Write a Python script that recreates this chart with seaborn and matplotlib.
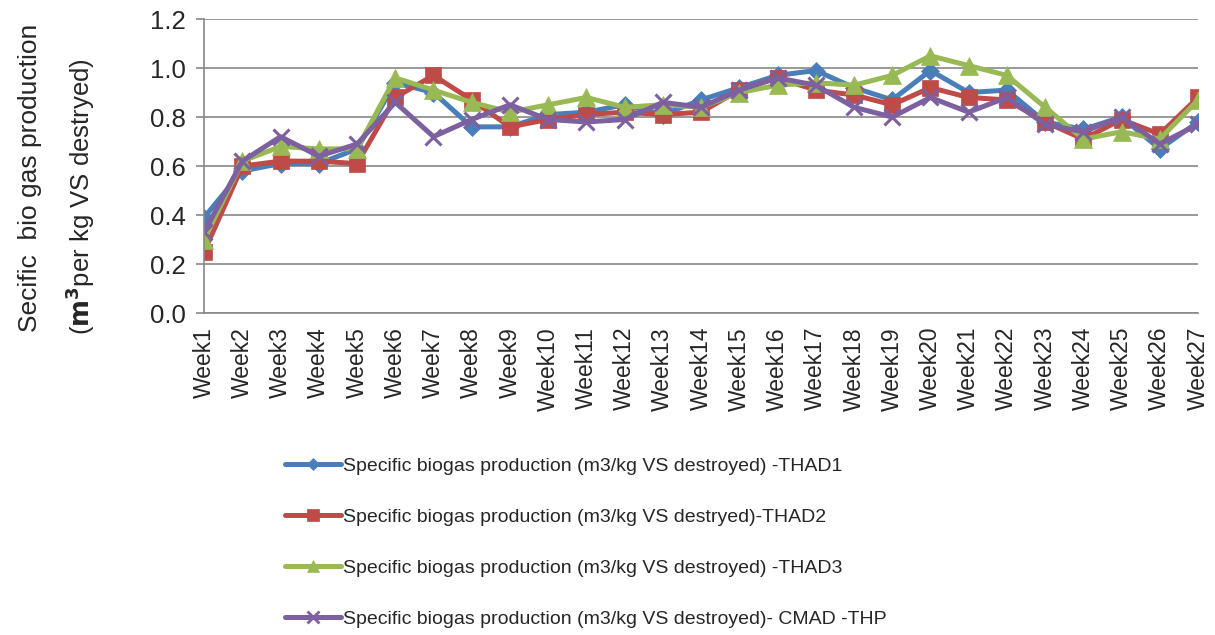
import seaborn as sns
import matplotlib.pyplot as plt
import pandas as pd
from matplotlib.lines import Line2D

# weeks on the x axis
weeks = ["Week%d" % i for i in range(1, 28)]

# specific biogas production (m3/kg VS destroyed)
thad1 = [0.39, 0.58, 0.61, 0.61, 0.67, 0.94, 0.90, 0.76, 0.76, 0.81, 0.82, 0.85, 0.81, 0.87,
         0.92, 0.97, 0.99, 0.92, 0.87, 0.99, 0.90, 0.91, 0.78, 0.75, 0.80, 0.67, 0.78]
thad2 = [0.25, 0.60, 0.62, 0.62, 0.61, 0.88, 0.97, 0.87, 0.76, 0.79, 0.81, 0.82, 0.81, 0.82,
         0.91, 0.96, 0.91, 0.89, 0.85, 0.92, 0.88, 0.87, 0.78, 0.71, 0.79, 0.73, 0.88]
thad3 = [0.30, 0.62, 0.68, 0.67, 0.67, 0.96, 0.91, 0.86, 0.82, 0.85, 0.88, 0.84, 0.85, 0.84,
         0.90, 0.93, 0.94, 0.93, 0.97, 1.05, 1.01, 0.97, 0.84, 0.71, 0.74, 0.71, 0.87]
cmad = [0.33, 0.62, 0.72, 0.64, 0.69, 0.86, 0.72, 0.79, 0.85, 0.79, 0.78, 0.79, 0.86, 0.84,
        0.91, 0.96, 0.93, 0.84, 0.80, 0.88, 0.82, 0.88, 0.77, 0.74, 0.80, 0.69, 0.77]

labels = ["Specific biogas production (m3/kg VS destroyed) -THAD1",
          "Specific biogas production (m3/kg VS destryed)-THAD2",
          "Specific biogas production (m3/kg VS destroyed) -THAD3",
          "Specific biogas production (m3/kg VS destroyed)- CMAD -THP"]
colors = ["#4A7EBB", "#BE4B48", "#98B954", "#7D60A0"]
markers = ["D", "s", "^", "x"]
msizes = [9, 12, 13, 12]

frames = []
for lab, vals in zip(labels, [thad1, thad2, thad3, cmad]):
    frames.append(pd.DataFrame({"week": weeks, "value": vals, "series": lab}))
df = pd.concat(frames, ignore_index=True)
df["pos"] = df["week"].map({w: i for i, w in enumerate(weeks)})

sns.set_style("white")
plt.rcParams['font.family'] = ['Liberation Sans', 'DejaVu Sans']

fig = plt.figure(figsize=(12.15, 6.35), dpi=100)
ax = fig.add_axes([0.168, 0.507, 0.818, 0.463])

ax.yaxis.grid(True, color="#888888", linewidth=1.2)
ax.set_axisbelow(True)

for lab, c, m, ms in zip(labels, colors, markers, msizes):
    sub = df[df["series"] == lab]
    sns.lineplot(data=sub, x="pos", y="value", color=c, linewidth=3.6, marker=m,
                 markersize=ms, markeredgecolor=c, markeredgewidth=2.2 if m == "x" else 0.5,
                 ax=ax, legend=False, sort=False)

ax.set_xlim(0, 26)
ax.set_ylim(0, 1.2)
ax.set_yticks([0.0, 0.2, 0.4, 0.6, 0.8, 1.0, 1.2])
ax.set_yticklabels(["%.1f" % v for v in [0.0, 0.2, 0.4, 0.6, 0.8, 1.0, 1.2]], fontsize=18.5)
ax.set_xticks(range(len(weeks)))
ax.set_xticklabels(weeks, rotation=90, fontsize=16.5)
ax.tick_params(axis="y", length=6, color="#888888", width=1.2, pad=7, direction="out", left=True)
ax.tick_params(axis="x", length=0, pad=10)
ax.set_xlabel("")
ax.set_ylabel("")

for s in ["top", "right"]:
    ax.spines[s].set_visible(False)
for s in ["left", "bottom"]:
    ax.spines[s].set_color("#888888")
    ax.spines[s].set_linewidth(1.2)

fig.text(0.025, 0.72, "Secific  bio gas production", rotation=90, fontsize=19,
         ha="center", va="center")
fig.text(0.066, 0.69, r"($\mathbf{m^3}$per kg VS destryed)", rotation=90, fontsize=18.5,
         ha="center", va="center")

handles = [Line2D([0], [0], color=c, linewidth=3.6, marker=m, markersize=ms * 0.7,
                  markeredgecolor=c, markeredgewidth=2 if m == "x" else 0.5)
           for c, m, ms in zip(colors, markers, msizes)]
fig.legend(handles, labels, loc="upper left", bbox_to_anchor=(0.2285, 0.292),
           frameon=False, fontsize=14, handlelength=2.85, handletextpad=0.1,
           labelspacing=1.72, borderaxespad=0)

fig.savefig("out.png", dpi=100)
